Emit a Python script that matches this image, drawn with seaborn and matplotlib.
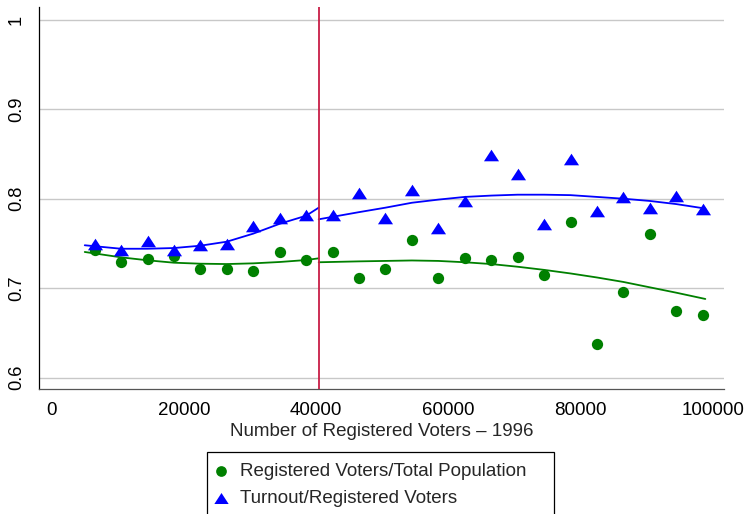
import matplotlib
matplotlib.use("Agg")
import matplotlib.pyplot as plt
import seaborn as sns
import pandas as pd

# ---------------- data ----------------
voters = [6500, 10500, 14500, 18500, 22500, 26500, 30500, 34500, 38500, 42500,
          46500, 50500, 54500, 58500, 62500, 66500, 70500, 74500, 78500, 82500,
          86500, 90500, 94500, 98500]
reg_pop = [0.743, 0.729, 0.733, 0.736, 0.721, 0.721, 0.719, 0.740, 0.7315, 0.741,
           0.711, 0.721, 0.7534, 0.7115, 0.7333, 0.732, 0.735, 0.715, 0.774, 0.638,
           0.6955, 0.7605, 0.675, 0.670]
turnout_reg = [0.749, 0.743, 0.753, 0.743, 0.748, 0.7495, 0.770, 0.779, 0.7815, 0.782,
               0.806, 0.778, 0.810, 0.7675, 0.798, 0.8486, 0.828, 0.772, 0.8444, 0.786,
               0.802, 0.790, 0.8027, 0.7885]

cutoff = 40400

fit_left_x = [5000, 10500, 14500, 18500, 22500, 26500, 30500, 34500, 38500, 40400]
fit_left_green = [0.7405, 0.7345, 0.7312, 0.7285, 0.7274, 0.727, 0.7278, 0.7293, 0.7315, 0.7334]
fit_left_blue = [0.748, 0.7441, 0.7441, 0.7449, 0.7475, 0.752, 0.761, 0.772, 0.781, 0.790]

fit_right_x = [40400, 46500, 50500, 54500, 58500, 62500, 66500, 70500, 74500, 78500,
               82500, 86500, 90500, 94500, 98900]
fit_right_green = [0.729, 0.730, 0.7305, 0.731, 0.7305, 0.729, 0.727, 0.724, 0.7205, 0.7165,
                   0.712, 0.707, 0.701, 0.695, 0.688]
fit_right_blue = [0.777, 0.785, 0.790, 0.7955, 0.799, 0.802, 0.8035, 0.8045, 0.8045, 0.804,
                  0.802, 0.800, 0.7975, 0.794, 0.789]

x_ticks = [0, 20000, 40000, 60000, 80000, 100000]
x_tick_labels = ["0", "20000", "40000", "60000", "80000", "100000"]
y_ticks = [0.6, 0.7, 0.8, 0.9, 1.0]
y_tick_labels = ["0.6", "0.7", "0.8", "0.9", "1"]

label_green = "Registered Voters/Total Population"
label_blue = "Turnout/Registered Voters"
x_label = "Number of Registered Voters \u2013 1996"

# ---------------- style ----------------
sns.set_style("white")
plt.rcParams["font.family"] = ["Liberation Sans", "DejaVu Sans"]

W, H = 746, 514
fig = plt.figure(figsize=(W / 100, H / 100), dpi=100)
ax_l, ax_r, ax_b, ax_t = 39.3, 724.3, 389.0, 7.0
ax = fig.add_axes([ax_l / W, 1 - ax_b / H, (ax_r - ax_l) / W, (ax_b - ax_t) / H])

GREEN = "#008000"
BLUE = "#0000ff"

df = pd.DataFrame({"voters": voters, "reg_pop": reg_pop, "turnout_reg": turnout_reg})
tri = [(0, 0.5), (-0.65, -0.5), (0.65, -0.5)]

sns.scatterplot(data=df, x="voters", y="reg_pop", color=GREEN, marker="o", s=66,
                linewidth=0, label=label_green, ax=ax, zorder=3)
sns.scatterplot(data=df, x="voters", y="turnout_reg", color=BLUE, marker=tri, s=118,
                linewidth=0, label=label_blue, ax=ax, zorder=3)

for fx, fy, col in [(fit_left_x, fit_left_green, GREEN), (fit_left_x, fit_left_blue, BLUE),
                    (fit_right_x, fit_right_green, GREEN), (fit_right_x, fit_right_blue, BLUE)]:
    sns.lineplot(x=fx, y=fy, color=col, linewidth=1.3, ax=ax, legend=False, zorder=2)

ax.axvline(cutoff, color="#c81e46", linewidth=1.3, zorder=4)

# axes
ax.set_xlim(-1877, 101771)
ax.set_ylim(0.5874, 1.0142)
ax.set_xticks(x_ticks)
ax.set_xticklabels(x_tick_labels, fontsize=13.5)
ax.set_yticks(y_ticks)
ax.set_yticklabels(y_tick_labels, fontsize=13.2, rotation=90, va="center")
ax.grid(axis="y", color="#c8c8c8", linewidth=1.0)
ax.grid(axis="x", visible=False)
ax.set_axisbelow(True)
for s in ["top", "right"]:
    ax.spines[s].set_visible(False)
ax.spines["left"].set_color("black")
ax.spines["left"].set_linewidth(0.9)
ax.spines["bottom"].set_color("#555555")
ax.spines["bottom"].set_linewidth(0.9)
ax.tick_params(axis="x", length=3.5, width=0.8, color="#444444", pad=6, labelcolor="black")
ax.tick_params(axis="y", length=5.3, width=0.8, color="#444444", pad=5, labelcolor="black")
ax.set_xlabel(x_label, fontsize=13.5, labelpad=3)
ax.set_ylabel("")

handles, labels = ax.get_legend_handles_labels()
if ax.get_legend() is not None:
    ax.get_legend().remove()
leg_l, leg_r, leg_t = 206.7, 553.8, 452.3
fig.legend(handles, labels, loc="upper left",
           bbox_to_anchor=(leg_l / W, 0, (leg_r - leg_l) / W, 1 - leg_t / H),
           bbox_transform=fig.transFigure, mode="expand", borderaxespad=0,
           fontsize=13.5, frameon=True, fancybox=False, framealpha=1,
           edgecolor="black", borderpad=0.55, handlelength=0.4, handletextpad=0.8,
           labelspacing=0.55, markerscale=0.95)
leg = fig.legends[0]
leg.get_frame().set_linewidth(0.9)

fig.savefig("out.png", dpi=100)
